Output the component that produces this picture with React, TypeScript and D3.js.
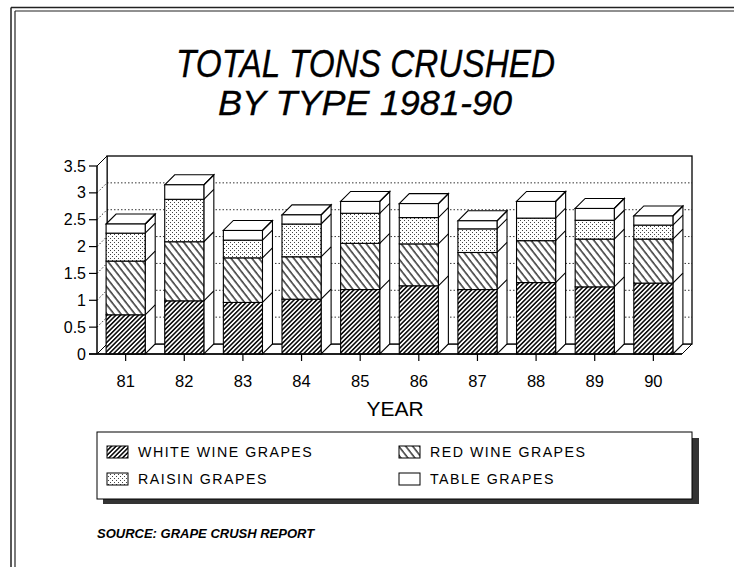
import React from "react";
import * as d3 from "d3";

const years = ["81", "82", "83", "84", "85", "86", "87", "88", "89", "90"];
const whiteWine = [0.73, 0.99, 0.96, 1.02, 1.2, 1.27, 1.2, 1.33, 1.25, 1.32];
const redWine = [1.0, 1.1, 0.83, 0.79, 0.86, 0.78, 0.69, 0.78, 0.89, 0.82];
const raisin = [0.52, 0.79, 0.33, 0.61, 0.56, 0.49, 0.44, 0.42, 0.35, 0.26];
const tableGr = [0.17, 0.27, 0.18, 0.17, 0.22, 0.26, 0.15, 0.31, 0.22, 0.17];
const yTicks = [0, 0.5, 1, 1.5, 2, 2.5, 3, 3.5];
const seriesKeys = ["white", "red", "raisin", "table"];
const seriesLabels = ["WHITE WINE GRAPES", "RED WINE GRAPES", "RAISIN GRAPES", "TABLE GRAPES"];

const W = 734;
const H = 567;
const DX = 10;
const DY = -10;
const FONT = "'Liberation Sans', Arial, Helvetica, sans-serif";

export default function App() {
  const x = d3
    .scaleBand<string>()
    .domain(years)
    .range([97, 682])
    .paddingInner(0.333)
    .paddingOuter(0.155);
  const y = d3.scaleLinear().domain([0, 3.5]).range([354, 166]);

  const rows = years.map((yr, i) => ({
    year: yr,
    white: whiteWine[i],
    red: redWine[i],
    raisin: raisin[i],
    table: tableGr[i],
  }));
  const stacked = d3.stack<any>().keys(seriesKeys)(rows);
  const fills: Record<string, string> = {
    white: "url(#pWhite)",
    red: "url(#pRed)",
    raisin: "url(#pRaisin)",
    table: "#fff",
  };

  const x0 = x.range()[0];
  const x1 = x.range()[1];
  const y0 = y(0);
  const yTop = y(3.5);
  const bw = x.bandwidth();

  return (
    <svg
      width={W}
      height={H}
      style={{ position: "absolute", left: 0, top: 0, background: "#fff" }}
      fontFamily={FONT}
    >
      <defs>
        <pattern id="pWhite" width={3.2} height={3.2} patternUnits="userSpaceOnUse" patternTransform="rotate(45)">
          <rect width={3.2} height={3.2} fill="#fff" />
          <line x1={0.8} y1={0} x2={0.8} y2={3.2} stroke="#000" strokeWidth={1.5} />
        </pattern>
        <pattern id="pRed" width={5.5} height={5.5} patternUnits="userSpaceOnUse" patternTransform="rotate(-38)">
          <rect width={5.5} height={5.5} fill="#fff" />
          <line x1={1} y1={0} x2={1} y2={5.5} stroke="#000" strokeWidth={1.2} />
        </pattern>
        <pattern id="pRaisin" width={4} height={4} patternUnits="userSpaceOnUse">
          <rect width={4} height={4} fill="#fff" />
          <rect x={0} y={0} width={1} height={1} fill="#444" />
          <rect x={2} y={2} width={1} height={1} fill="#444" />
        </pattern>
      </defs>
      <rect width={W} height={H} fill="#fff" />

      {/* page border */}
      <g stroke="#222" fill="none">
        <line x1={11} y1={7.5} x2={W} y2={7.5} strokeWidth={1.5} />
        <line x1={15} y1={11} x2={W} y2={11} strokeWidth={1.2} />
        <line x1={11} y1={7.5} x2={11} y2={H} strokeWidth={1.5} />
        <line x1={15} y1={11} x2={15} y2={H} strokeWidth={1.2} />
      </g>

      {/* title */}
      <text
        x={176}
        y={77}
        fontSize={38}
        fontStyle="italic"
        textLength={379}
        lengthAdjust="spacingAndGlyphs"
        stroke="#000"
        strokeWidth={0.3}
      >
        TOTAL TONS CRUSHED
      </text>
      <text
        x={218}
        y={115}
        fontSize={35}
        fontStyle="italic"
        textLength={294}
        lengthAdjust="spacingAndGlyphs"
        stroke="#000"
        strokeWidth={0.3}
      >
        BY TYPE 1981-90
      </text>
      <text x={98} y={176} fontSize={16.5} textLength={135} lengthAdjust="spacingAndGlyphs">
        MILLION TONS
      </text>

      {/* walls and floor */}
      <g stroke="#000" fill="none">
        <polygon
          points={`${x0},${y0} ${x1},${y0} ${x1 + DX},${y0 + DY} ${x0 + DX},${y0 + DY}`}
          fill="#fff"
          strokeWidth={1}
        />
        <rect x={x0 + DX} y={yTop + DY} width={x1 - x0} height={y0 - yTop} fill="#fff" strokeWidth={1.3} />
        <polygon
          points={`${x0},${y0} ${x0},${yTop} ${x0 + DX},${yTop + DY} ${x0 + DX},${y0 + DY}`}
          fill="#fff"
          strokeWidth={1}
        />
      </g>
      {/* grid */}
      <g stroke="#000" strokeWidth={0.8} strokeDasharray="1.5,2" fill="none">
        {yTicks.slice(1, -1).map((t) => (
          <g key={t}>
            <line x1={x0} y1={y(t)} x2={x0 + DX} y2={y(t) + DY} />
            <line x1={x0 + DX} y1={y(t) + DY} x2={x1 + DX} y2={y(t) + DY} />
          </g>
        ))}
      </g>
      <line x1={x0} y1={yTop} x2={x0 + DX} y2={yTop + DY} stroke="#000" strokeWidth={1} />

      {/* bars */}
      {years.map((yr, i) => {
        const bx = x(yr)!;
        const total = stacked[stacked.length - 1][i][1];
        const tY = y(total);
        return (
          <g key={yr} stroke="#000" strokeWidth={1.1}>
            <polygon
              points={`${bx + bw},${y0} ${bx + bw},${tY} ${bx + bw + DX},${tY + DY} ${bx + bw + DX},${y0 + DY}`}
              fill="#fff"
            />
            <polygon
              points={`${bx},${tY} ${bx + DX},${tY + DY} ${bx + bw + DX},${tY + DY} ${bx + bw},${tY}`}
              fill="#fff"
            />
            {stacked.map((s) => {
              const d = s[i];
              return (
                <g key={s.key}>
                  <rect x={bx} y={y(d[1])} width={bw} height={y(d[0]) - y(d[1])} fill={fills[s.key]} />
                  <line x1={bx + bw} y1={y(d[1])} x2={bx + bw + DX} y2={y(d[1]) + DY} />
                </g>
              );
            })}
          </g>
        );
      })}

      {/* axes */}
      <line x1={89} y1={y0} x2={x1} y2={y0} stroke="#000" strokeWidth={1.3} />
      <line x1={x0} y1={y0} x2={x0} y2={yTop} stroke="#000" strokeWidth={1} />
      <line x1={x1} y1={y0} x2={x1 + DX} y2={y0 + DY} stroke="#000" strokeWidth={1} />
      {yTicks.map((t) => (
        <g key={t}>
          <line x1={89} y1={y(t)} x2={x0} y2={y(t)} stroke="#000" strokeWidth={1.2} />
          <text x={86} y={y(t) + 5.5} fontSize={16} textAnchor="end">
            {String(t)}
          </text>
        </g>
      ))}
      {years.map((yr) => (
        <g key={yr}>
          <line
            x1={x(yr)! + bw / 2}
            y1={y0}
            x2={x(yr)! + bw / 2}
            y2={y0 + 7}
            stroke="#000"
            strokeWidth={1.2}
          />
          <text x={x(yr)! + bw / 2} y={387} fontSize={16.5} textAnchor="middle">
            {yr}
          </text>
        </g>
      ))}
      <text x={395} y={416} fontSize={21} textAnchor="middle">
        YEAR
      </text>

      {/* legend */}
      <rect x={103} y={438} width={596} height={66} fill="#333" />
      <rect x={97} y={432} width={595} height={67} fill="#fff" stroke="#000" strokeWidth={1} />
      {seriesKeys.map((k, i) => {
        const col = i % 2;
        const row = Math.floor(i / 2);
        const sx = col === 0 ? 107 : 399;
        const sy = row === 0 ? 452 : 479;
        return (
          <g key={k}>
            <rect x={sx} y={sy - 6} width={21} height={12} fill={fills[k]} stroke="#000" strokeWidth={1} />
            <text x={sx + 31} y={sy + 5} fontSize={14.2} letterSpacing={1.5}>
              {seriesLabels[i]}
            </text>
          </g>
        );
      })}

      {/* source */}
      <text x={97} y={538} fontSize={13} fontWeight="bold" fontStyle="italic">
        SOURCE: GRAPE CRUSH REPORT
      </text>
    </svg>
  );
}
